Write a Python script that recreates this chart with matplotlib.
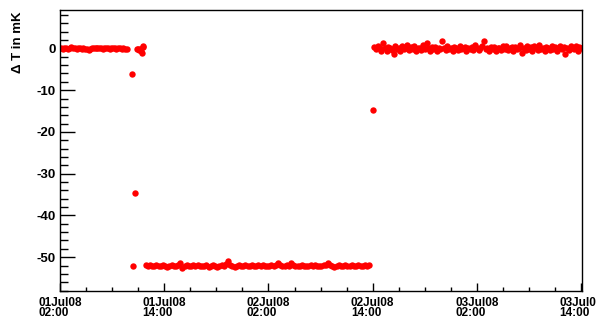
import datetime as dt
import numpy as np
import matplotlib
matplotlib.use("Agg")
import matplotlib.pyplot as plt
import matplotlib.dates as mdates

plt.rcParams['font.family'] = ['Liberation Sans', 'DejaVu Sans']
plt.rcParams['font.weight'] = 'bold'
plt.rcParams['font.size'] = 9.5
plt.rcParams['axes.unicode_minus'] = False

# time origin of the run, offsets below are in hours
t0 = dt.datetime(2008, 7, 1, 2, 0)

# first plateau (before the jump), sampled every 0.2 h from 0.1 h
seg1_start, seg1_step = 0.1, 0.2
seg1_vals = [0.0, -0.1, 0.1, 0.0, -0.1, 0.2, 0.4, 0.1, 0.0, -0.1,
             0.0, 0.1, -0.1, 0.0, -0.2, -0.1, -0.4, -0.2, 0.0, 0.1,
             0.0, 0.1, 0.2, 0.0, -0.1, 0.0, 0.1, 0.0, -0.1, 0.0,
             0.1, 0.0, -0.1, 0.0, 0.0, -0.1, 0.1, -0.2, -0.1]

# scattered points around the transition
trans_hours = [8.25, 8.4, 8.6, 8.9, 9.0, 9.1, 9.2, 9.3, 9.4, 9.5, 9.6, 36.0]
trans_vals = [-6.2, -52.0, -34.6, -0.2, -0.1, -0.3, -0.1, -0.5, -1.0, 0.3, 0.5, -14.8]

# shifted plateau at about -52 mK, every 0.25 h from 9.85 h
seg2_start, seg2_step = 9.85, 0.25
seg2_vals = [-51.9, -52.0, -51.9, -52.0, -52.1, -51.9, -52.0, -52.0, -51.9, -52.1,
             -52.4, -52.0, -51.9, -52.0, -52.1, -51.9, -51.4, -52.5, -52.0, -51.9,
             -52.0, -52.1, -51.9, -52.0, -51.9, -52.0, -52.1, -52.0, -51.9, -52.3,
             -52.0, -51.9, -52.0, -52.3, -52.0, -51.9, -52.0, -51.7, -51.0, -51.8,
             -52.0, -52.4, -52.0, -51.9, -52.0, -52.1, -51.9, -52.0, -52.0, -51.9,
             -52.0, -52.1, -51.9, -52.0, -51.9, -52.0, -52.1, -52.0, -51.9, -52.0,
             -51.8, -51.4, -51.9, -52.0, -52.1, -51.9, -52.0, -51.4, -51.9, -52.0,
             -52.1, -52.0, -51.9, -52.0, -52.0, -52.1, -51.9, -52.0, -51.9, -52.0,
             -52.1, -52.0, -51.9, -51.8, -51.4, -51.9, -52.1, -52.4, -52.0, -51.9,
             -52.0, -52.0, -51.9, -52.1, -52.0, -51.9, -52.0, -52.0, -51.9, -52.0,
             -52.1, -51.9, -52.0, -51.8]

# back near zero, every 0.2 h from 36.2 h
seg3_start, seg3_step = 36.2, 0.2
seg3_vals = [0.3, -0.2, 0.6, 0.1, -0.5, 1.4, 0.2, -0.6, 0.4, 0.0,
             -0.3, -1.4, 0.5, -0.1, 0.2, -0.7, 0.6, -0.2, 0.1, 0.8,
             -0.4, 0.3, -0.1, 0.5, -0.6, 0.2, 0.0, -0.3, 0.7, -0.2,
             1.2, 0.1, -0.5, 0.4, -0.1, 0.3, -0.6, 0.2, -0.2, 1.7,
             0.0, -0.4, 0.5, -0.1, 0.2, -0.5, 0.3, 0.0, -0.3, 0.6,
             -0.2, 0.1, 0.4, -0.6, 0.2, -0.1, 0.3, -0.4, 0.7, 0.0,
             -0.3, 0.2, 0.5, 1.7, -0.2, 0.1, -0.5, 0.3, -0.1, 0.4,
             -0.6, 0.2, 0.0, -0.3, 0.5, -0.2, 0.6, -0.4, 0.1, 0.3,
             -0.5, 0.4, -0.1, 0.2, 0.7, -1.2, 0.1, -0.3, 0.6, -0.2,
             0.3, -0.6, 0.5, 0.0, -0.4, 0.8, -0.1, 0.2, -0.5, 0.4,
             0.1, -0.3, 0.6, -0.2, 0.3, -0.6, 0.2, 0.5, -0.1, 0.4,
             -1.3, 0.2, -0.4, 0.6, 0.0, -0.2, 0.5, -0.5, 0.3, 0.1]


def to_times(hours):
    return [t0 + dt.timedelta(hours=float(h)) for h in hours]


def sampled(start, step, vals):
    return to_times(start + step * np.arange(len(vals))), vals


fig = plt.figure(figsize=(5.96, 3.2), dpi=100)
ax = fig.add_axes([60 / 596, 1 - 291 / 320, 522 / 596, 281 / 320])

mk = dict(ls='none', marker='o', ms=4.6, color='#ff0000', mec='#ff0000', mew=0)
for start, step, vals in [(seg1_start, seg1_step, seg1_vals),
                          (seg2_start, seg2_step, seg2_vals),
                          (seg3_start, seg3_step, seg3_vals)]:
    x, y = sampled(start, step, vals)
    ax.plot(x, y, **mk)
ax.plot(to_times(trans_hours), trans_vals, **mk)

ax.set_xlim(t0, t0 + dt.timedelta(hours=60.1))
ax.set_ylim(-58.1, 9.2)

ax.xaxis.set_major_locator(mdates.HourLocator(byhour=[2, 14]))
ax.xaxis.set_minor_locator(mdates.HourLocator(byhour=[2, 5, 8, 11, 14, 17, 20, 23]))
ax.xaxis.set_major_formatter(mdates.DateFormatter('%d%b%y\n%H:%M'))
ax.set_yticks([0, -10, -20, -30, -40, -50])
ax.set_yticks(np.arange(-58, 9, 2), minor=True)

ax.tick_params(axis='x', which='major', direction='in', length=6, width=1, pad=4)
ax.tick_params(axis='x', which='minor', direction='in', length=3, width=1)
ax.tick_params(axis='y', which='major', direction='in', length=11, width=1, pad=3)
ax.tick_params(axis='y', which='minor', direction='in', length=6, width=1)
for lab in ax.get_xticklabels():
    lab.set_multialignment('left')
    lab.set_linespacing(0.85)
    lab.set_fontsize(8.5)
    lab.set_fontweight('bold')
for lab in ax.get_yticklabels():
    lab.set_fontweight('bold')

for s in ax.spines.values():
    s.set_linewidth(1)

ax.set_ylabel('Δ T in mK', loc='top', fontweight='bold')
ax.yaxis.set_label_coords(-0.069, 0.993)

fig.savefig('out.png', dpi=100)
